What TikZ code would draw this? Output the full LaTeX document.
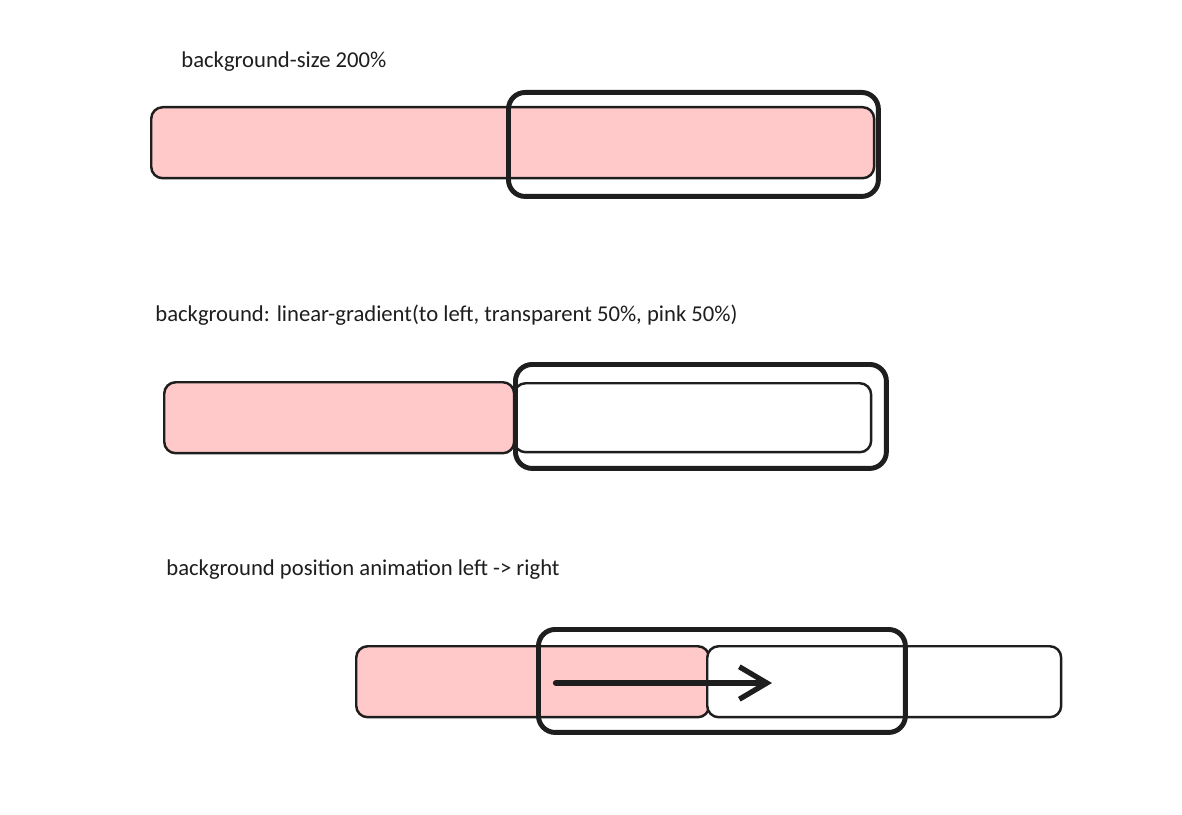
\documentclass[tikz,border=0pt]{standalone}
\usepackage{fontspec}
\setmainfont{Carlito}
\usepackage{tikz}
\usetikzlibrary{arrows.meta,positioning}
\definecolor{sketchInk}{HTML}{1E1E1E}
\definecolor{sketchPink}{HTML}{FFC9C9}

\begin{document}
\begin{tikzpicture}[
    x=0.02cm, y=-0.02cm,
    every node/.style={font=\fontsize{12.9}{15}\selectfont, text=sketchInk},
    caption/.style={anchor=base west, inner sep=0pt},
    bar/.style={draw=sketchInk, line width=1.4pt, rounded corners=6.5pt, inner sep=0pt, minimum height=1.42cm, anchor=north west},
    pinkbar/.style={bar, fill=sketchPink},
    whitebar/.style={bar, fill=white},
    frame/.style={draw=sketchInk, line width=2.8pt, rounded corners=9.5pt, inner sep=0pt, minimum height=2.08cm, anchor=north west},
    move/.style={-{Straight Barb[length=5.5mm, width=6.5mm, line width=3pt]}, line width=3.6pt, line cap=round, draw=sketchInk}
  ]
    \useasboundingbox[fill=white] (0,0) rectangle (1182,814);

    \node[caption] (sizelabel) at (181,68) {background-size 200\%};
    \node[pinkbar, minimum width=14.46cm] (sizebar) at (150,106) {};
    \node[frame, minimum width=7.4cm] (sizeframe) at (506,90) {};

    \node[caption] (gradlabel) at (155,321) {background: linear-gradient(to left, transparent 50\%, pink 50\%)};
    \node[pinkbar, minimum width=7.0cm] (gradpink) at (163,381) {};
    \node[whitebar, minimum width=7.14cm, minimum height=1.38cm] (gradwhite) at (513,382) {};
    \node[frame, minimum width=7.42cm] (gradframe) at (513,362) {};

    \node[caption] (animlabel) at (166,575) {background position animation left -> right};
    \node[pinkbar, minimum width=7.06cm] (animpink) at (355,645) {};
    \node[whitebar, minimum width=7.08cm] (animwhite) at (706,645) {};
    \node[frame, minimum width=7.34cm, minimum height=2.06cm] (animframe) at (536,627) {};
    \coordinate (slidestart) at (556,683);
    \coordinate (slideend) at (772,683);

    \draw[move] (slidestart) -- (slideend);
\end{tikzpicture}
\end{document}
